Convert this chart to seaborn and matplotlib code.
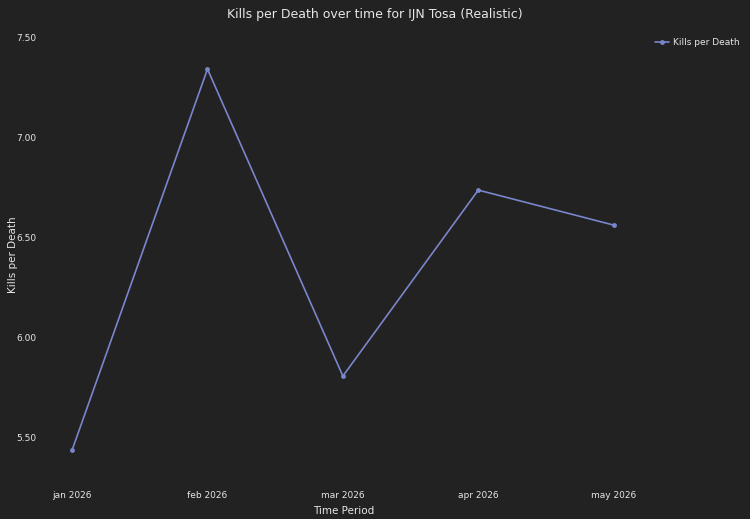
import matplotlib
matplotlib.use("Agg")
import matplotlib.pyplot as plt
import seaborn as sns
import pandas as pd

# values
periods = ['jan 2026', 'feb 2026', 'mar 2026', 'apr 2026', 'may 2026']
kills_per_death = [5.435, 7.34, 5.805, 6.735, 6.56]

bg = '#222222'
fg = '#e6e6e6'
line_color = '#7986cb'

sns.set_theme(style='dark')
plt.rcParams['font.family'] = ['DejaVu Sans']

df = pd.DataFrame({'Time Period': periods, 'Kills per Death': kills_per_death})
df['pos'] = range(len(periods))

fig = plt.figure(figsize=(7.5, 5.19), dpi=100, facecolor=bg)
ax = fig.add_axes([0.06, 0.075, 0.807, 0.867])
ax.set_facecolor(bg)

sns.lineplot(data=df, x='pos', y='Kills per Death', ax=ax, color=line_color,
             marker='o', markersize=3.5, markeredgewidth=0, linewidth=1.2,
             label='Kills per Death')

ax.set_xticks(df['pos'])
ax.set_xticklabels(periods)
ax.set_yticks([5.5, 6.0, 6.5, 7.0, 7.5])
ax.set_yticklabels(['5.50', '6.00', '6.50', '7.00', '7.50'])
ax.set_xlim(-0.2, 4.27)
ax.set_ylim(5.285, 7.535)
ax.grid(False)
for s in ax.spines.values():
    s.set_visible(False)
ax.tick_params(axis='y', pad=6)
ax.tick_params(axis='x', pad=8)
ax.tick_params(colors=fg, labelsize=6.5, length=0)
for lab in ax.get_xticklabels() + ax.get_yticklabels():
    lab.set_color(fg)

ax.set_xlabel('Time Period', color=fg, fontsize=7.5)
ax.set_ylabel('Kills per Death', color=fg, fontsize=7.5)
ax.xaxis.set_label_coords(0.493, -0.058)
ax.yaxis.set_label_coords(-0.045, 0.5)
fig.suptitle('Kills per Death over time for IJN Tosa (Realistic)', color=fg,
             fontsize=9, x=0.5, y=0.985)

leg = ax.legend(loc='upper left', bbox_to_anchor=(0.995, 1.0), frameon=False,
                fontsize=6.5, handlelength=1.5, handletextpad=0.4)
for t in leg.get_texts():
    t.set_color(fg)

fig.savefig('out.png', dpi=100, facecolor=bg)
